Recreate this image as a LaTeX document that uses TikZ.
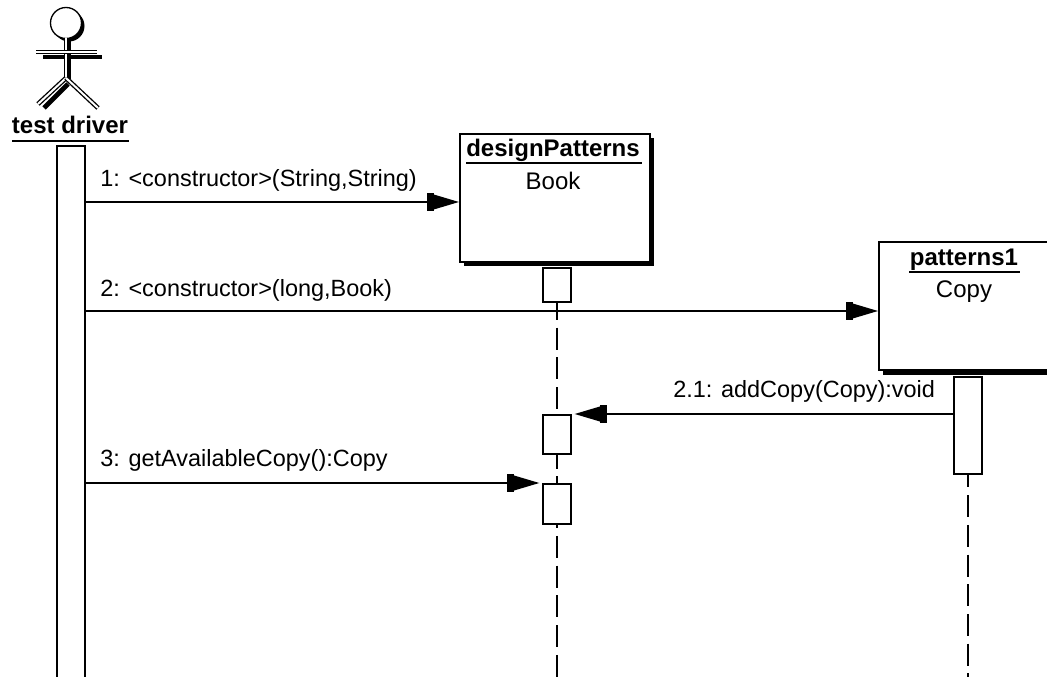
\documentclass[tikz,border=0pt]{standalone}
\usepackage{fontspec}
\setmainfont{Liberation Sans}
\usetikzlibrary{arrows.meta}
\tikzset{
  bar/.style={draw,line width=1.5pt,fill=white,minimum width=21pt,inner sep=0pt},
  objbox/.style={draw,line width=1.5pt,fill=white,inner sep=0pt},
  msg/.style={line width=1.1pt,-{Rectangle[length=5pt,width=13.5pt,sep=0pt]Triangle[length=19pt,width=11pt]}},
  lifeline/.style={line width=1.2pt,dash pattern=on 16.5pt off 5.8pt},
  msglabel/.style={font=\fontsize{17.6}{20}\selectfont,anchor=base west,inner sep=0pt},
  objname/.style={font=\bfseries\fontsize{18}{21}\selectfont,anchor=base,inner ysep=0pt},
  objclass/.style={font=\fontsize{18}{21}\selectfont,anchor=base,inner sep=0pt},
  ruleline/.style={line width=1.3pt},
  limb/.style={line width=1pt,double=white,double distance=1.5pt},
  limbshadow/.style={line width=3.5pt}
}
\begin{document}
\begin{tikzpicture}[x=0.75pt,y=-0.75pt]
  \useasboundingbox (0,0) rectangle (1047,677);
  \fill[white] (0,0) rectangle (1047,677);

  % test driver
  \fill (69,26) circle (15.5);
  \draw[line width=1pt,fill=white] (66,23) circle (15.5);
  \draw[limbshadow] (69,39) -- (69,79);
  \draw[limbshadow] (43,57) -- (102,57);
  \draw[limbshadow] (68,84) -- (44,108);
  \draw[limb] (66,38) -- (66,78);
  \draw[limb] (36,52) -- (97,52);
  \draw[limb] (66,78) -- (38,104);
  \draw[limb] (66,78) -- (98,108);
  \node[objname] (drivername) at (70,134) {test driver};
  \draw[ruleline] (12,141) -- (129,141);
  \node[bar,anchor=north,minimum height=400pt] (driver) at (71,145) {};

  % objects
  \fill (464,138) rectangle (654,266);
  \node[objbox,anchor=north west,minimum width=142.5pt,minimum height=96pt] (book) at (459,133) {};
  \node[objname] (bookname) at (553,157) {designPatterns};
  \draw[ruleline] (466,163) -- (642,163);
  \node[objclass] (bookclass) at (553,190) {Book};

  \fill (883,246) rectangle (1047,375);
  \node[objbox,anchor=north west,minimum width=160pt,minimum height=96pt] (copy) at (878,241) {};
  \node[objname] (copyname) at (964,266) {patterns1};
  \draw[ruleline] (909,272) -- (1020,272);
  \node[objclass] (copyclass) at (964,298) {Copy};

  % lifelines, then activations on top
  \node[bar,anchor=north,minimum height=25.5pt] (booka) at (557,267) {};
  \node[bar,anchor=north,minimum height=73pt] (copya) at (968,376) {};
  \coordinate (lifeend) at (0,677);
  \draw[lifeline,dash phase=3.75pt] (booka.south) -- (booka.south |- lifeend);
  \draw[lifeline,dash phase=7.5pt] (copya.south) -- (copya.south |- lifeend);
  \node[bar,anchor=north,minimum height=29pt] (bookb) at (557,414) {};
  \node[bar,anchor=north,minimum height=30pt] (bookc) at (557,483) {};

  % messages
  \coordinate (m1) at (0,202);
  \coordinate (m2) at (0,311);
  \coordinate (m3) at (0,483);
  \draw[msg] (driver.east |- m1) -- (book.west |- m1);
  \draw[msg] (driver.east |- m2) -- (copy.west |- m2);
  \draw[msg,shorten >=2pt] (copya.west |- bookb.north) -- (bookb.north east);
  \draw[msg,shorten >=2pt] (driver.east |- m3) -- (bookc.north west);
  \node[msglabel] (m1label) at (100,187) {1: <constructor>(String,String)};
  \node[msglabel] (m2label) at (100,297) {2: <constructor>(long,Book)};
  \node[msglabel] (m21label) at (673,398) {2.1: addCopy(Copy):void};
  \node[msglabel] (m3label) at (100,467) {3: getAvailableCopy():Copy};
\end{tikzpicture}
\end{document}
